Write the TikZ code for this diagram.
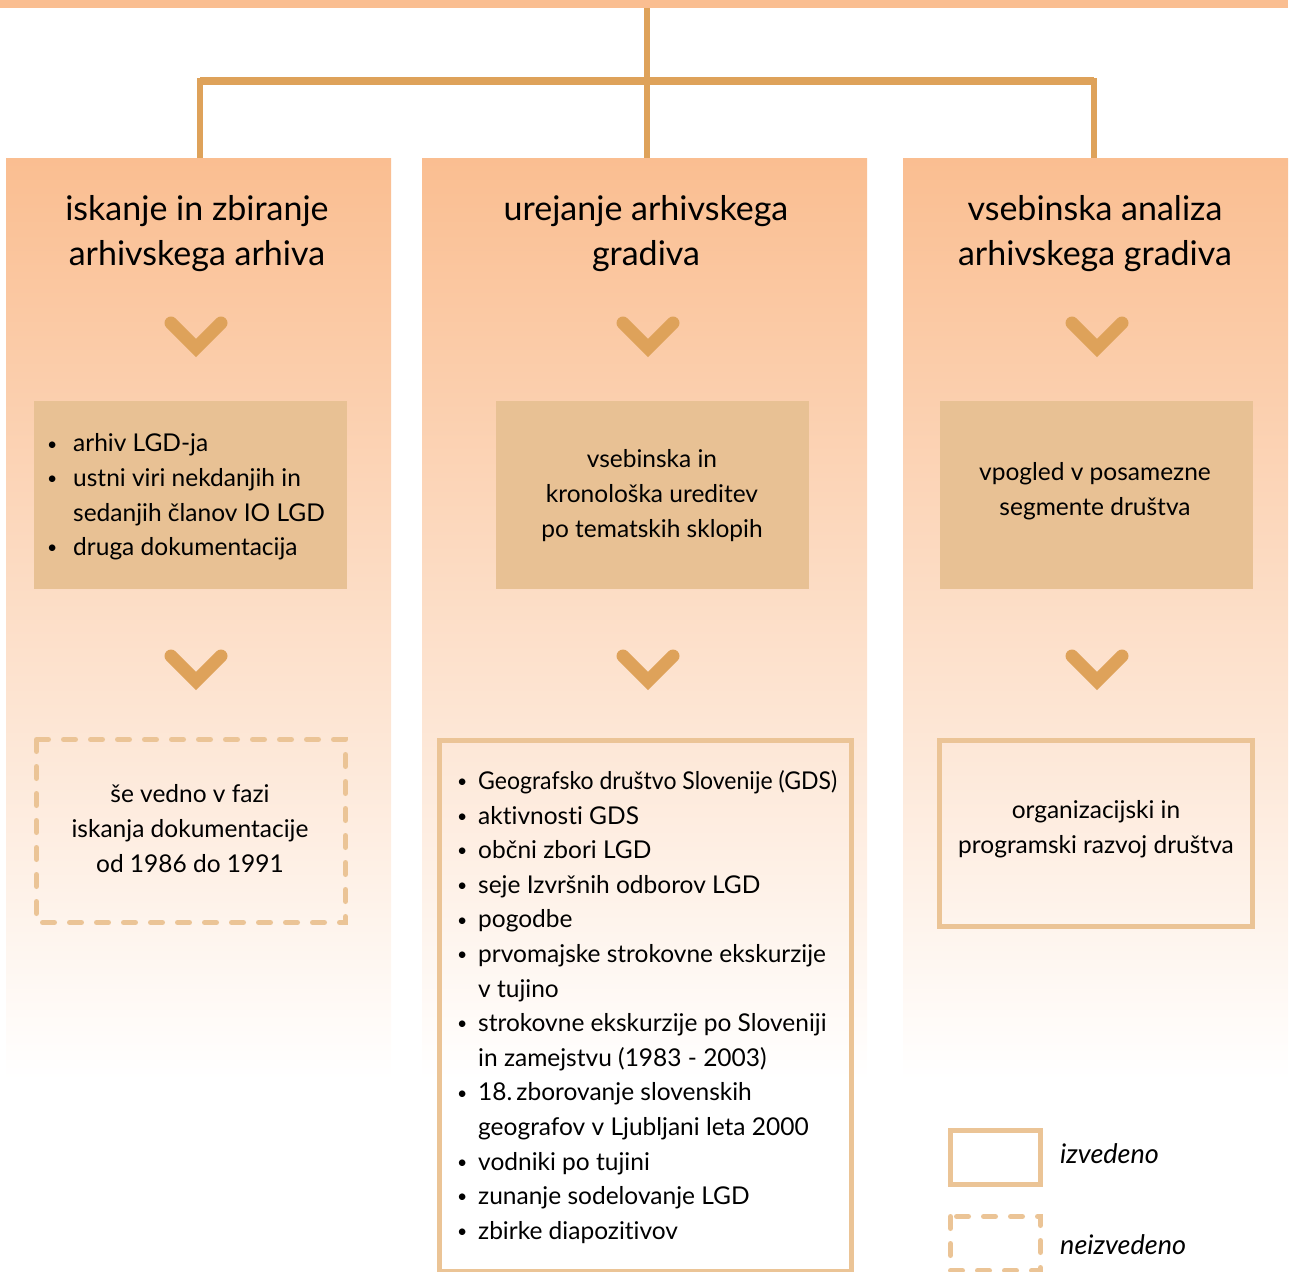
\documentclass[tikz,border=0pt]{standalone}
\usepackage{fontspec}
\setmainfont{Lato}[Ligatures=NoCommon]
\definecolor{peach}{HTML}{FABE91}
\definecolor{lineor}{HTML}{DEA25A}
\definecolor{tanfill}{HTML}{E8C194}
\definecolor{bord}{HTML}{EBC496}
\newcommand\mybul{\raisebox{1.8pt}{\scalebox{0.72}{\textbullet}}}
\newcommand\bl{\makebox[26pt][l]{\mybul}}
\newcommand\blb{\makebox[21pt][l]{\mybul}}
\begin{document}
\begin{tikzpicture}[x=1pt,y=-1pt,
  lbl/.style={font=\fontsize{24.5}{34.6}\selectfont, align=center, inner sep=0pt},
  lst/.style={font=\fontsize{24.5}{34.6}\selectfont, align=left, inner sep=0pt, anchor=west},
  head/.style={font=\fontsize{34}{45}\selectfont, align=center, inner sep=0pt},
  chev/.style={draw=lineor, line width=13pt, line cap=round, line join=miter},
  colbg/.style={top color=peach, bottom color=white, draw=none, inner sep=0pt, anchor=north west},
  fillbox/.style={fill=tanfill, draw=none, inner sep=0pt},
  donebox/.style={draw=bord, line width=5pt},
  todobox/.style={draw=bord, line width=5pt, dash pattern=on 12pt off 15pt, line cap=round},
  conn/.style={draw=lineor, line width=6pt, line join=miter},
  legtext/.style={font=\fontsize{27}{30}\selectfont\itshape, anchor=west, inner sep=0pt}]
\useasboundingbox (0,0) rectangle (1291,1272);

% column backgrounds
\node[colbg, minimum width=385pt, minimum height=922pt] (c1) at (6,158) {};
\node[colbg, minimum width=445pt, minimum height=922pt] (c2) at (422,158) {};
\node[colbg, minimum width=385pt, minimum height=922pt] (c3) at (903,158) {};

% top bar
\node[fill=peach, draw=none, inner sep=0pt, minimum width=1288pt, minimum height=8pt, anchor=north west] (topbar) at (0,0) {};

% tree connectors
\coordinate (split) at (647,81);
\coordinate (hl) at (200,81);
\coordinate (hr) at (1094,81);
\draw[conn] (topbar.south -| split) -- (split |- c2.north);
\draw[conn] (hl |- c1.north) -- (hl) -- (hr) -- (hr |- c3.north);
\draw[conn, line width=8pt] (hl) -- (hr);

% headings
\node[head] (h1) at (197,234) {iskanje in zbiranje\\arhivskega arhiva};
\node[head] (h2) at (646,234) {urejanje arhivskega\\gradiva};
\node[head] (h3) at (1095,234) {vsebinska analiza\\arhivskega gradiva};

% chevrons row 1
\draw[chev] (171,323) -- (196,348) -- (221,323);
\draw[chev] (623,323) -- (648,348) -- (673,323);
\draw[chev] (1072,323) -- (1097,348) -- (1122,323);

% filled boxes
\node[fillbox, minimum width=313pt, minimum height=188pt] (b1) at (190.5,495) {};
\node[fillbox, minimum width=313pt, minimum height=188pt] (b2) at (652.5,495) {};
\node[fillbox, minimum width=313pt, minimum height=188pt] (b3) at (1096.5,495) {};

\node[lst] (t1) at (47,497) {\bl arhiv LGD-ja\\\bl ustni viri nekdanjih in\\\hspace*{26pt}sedanjih članov IO LGD\\\bl druga dokumentacija};
\node[lbl] (t2) at (652,495.5) {vsebinska in\\kronološka ureditev\\po tematskih sklopih};
\node[lbl] (t3) at (1095,491) {vpogled v posamezne\\segmente društva};

% chevrons row 2
\draw[chev] (171,656) -- (196,681) -- (221,656);
\draw[chev] (623,656) -- (648,681) -- (673,656);
\draw[chev] (1072,656) -- (1097,681) -- (1122,656);

% outcome boxes
\draw[todobox] (36.5,739.5) rectangle (345.5,922.5);
\node[lbl] (t4) at (190,828.5) {še vedno v fazi\\iskanja dokumentacije\\od 1986 do 1991};

\draw[donebox] (439.5,740.5) rectangle (851.5,1271);
\node[lst] (t5) at (457,1007) {\blb \scalebox{0.94}[1]{Geografsko društvo Slovenije (GDS)}\\
\blb aktivnosti GDS\\
\blb občni zbori LGD\\
\blb seje Izvršnih odborov LGD\\
\blb pogodbe\\
\blb prvomajske strokovne ekskurzije\\
\hspace*{21pt}v tujino\\
\blb strokovne ekskurzije po Sloveniji\\
\hspace*{21pt}in zamejstvu (1983 - 2003)\\
\blb 18.\,zborovanje slovenskih\\
\hspace*{21pt}geografov v Ljubljani leta 2000\\
\blb vodniki po tujini\\
\blb zunanje sodelovanje LGD\\
\blb zbirke diapozitivov};

\draw[donebox] (939.5,740.5) rectangle (1252.5,926.5);
\node[lbl] (t6) at (1096,829) {organizacijski in\\programski razvoj društva};

% legend
\draw[donebox] (950.5,1130.5) rectangle (1040.5,1184.5);
\node[legtext] (l1) at (1060,1154) {izvedeno};
\draw[todobox] (950.5,1216.5) rectangle (1040.5,1270.5);
\node[legtext] (l2) at (1060,1245) {neizvedeno};
\end{tikzpicture}
\end{document}
